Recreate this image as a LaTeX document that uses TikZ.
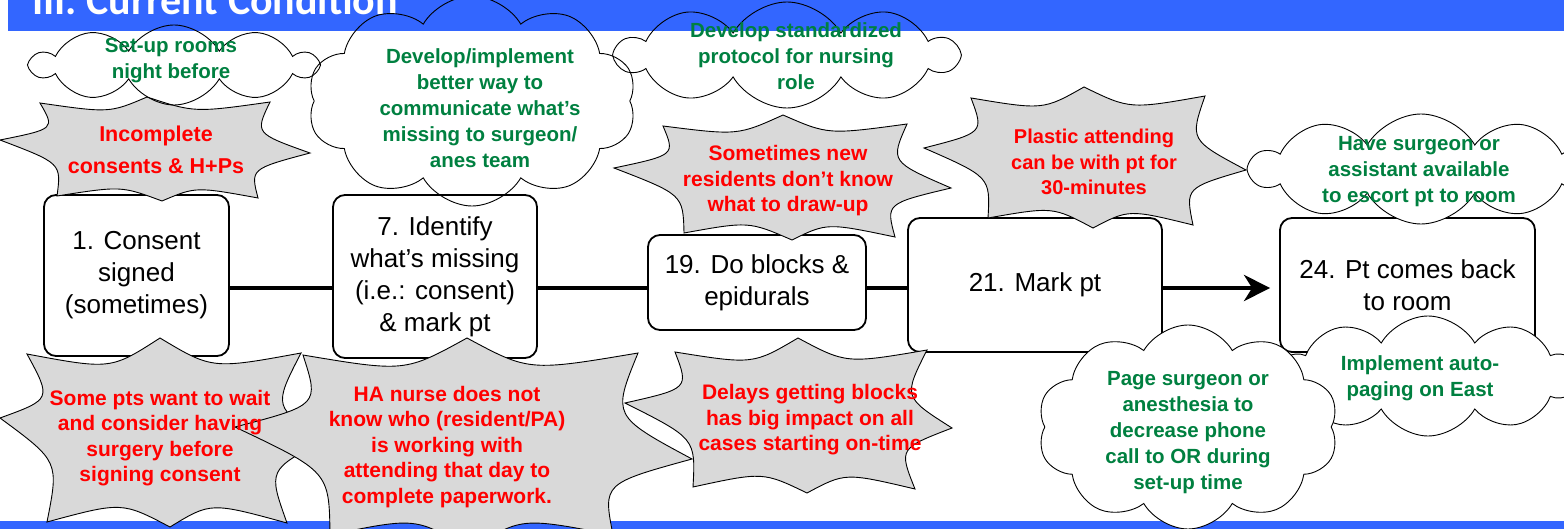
\documentclass[tikz,border=0pt]{standalone}
\usepackage{fontspec}
\setmainfont{Liberation Sans}
\newfontfamily\titlefont{Carlito}
\usetikzlibrary{shapes.symbols,arrows.meta,calc}
\definecolor{barblue}{RGB}{51,102,255}
\definecolor{ngreen}{RGB}{0,128,64}
\definecolor{nred}{RGB}{255,0,0}
\definecolor{expgray}{RGB}{217,217,217}
\tikzset{
  stepbox/.style={draw, rounded corners=12pt, line width=1.8pt, fill=white, align=center,
    font=\fontsize{26}{32}\selectfont, inner sep=0pt},
  flow/.style={line width=4.5pt},
  expl/.style={draw, fill=expgray, line width=0.9pt},
  redtxt/.style={text=nred, font=\bfseries\fontsize{21}{25.5}\selectfont, align=center, inner sep=0pt},
  greentxt/.style={text=ngreen, font=\bfseries\fontsize{20.5}{26}\selectfont, align=center, inner sep=0pt},
  cloudshape/.style={cloud, draw, line width=0.9pt, cloud puffs=10, cloud puff arc=120,
    cloud ignores aspect, inner sep=0pt},
  seg/.style n args={3}{insert path={.. controls ($(#3)!0.74!($(#1)!.5!(#2)$)$) .. (#2)}}
}
\newcommand\myexplosion[3]{%
  \coordinate (#1c) at (#2);
  \foreach \p [count=\i] in {#3} {\coordinate (#1p\i) at (\p);}
  \path[expl] (#1p1) [seg={#1p1}{#1p2}{#1c}] [seg={#1p2}{#1p3}{#1c}] [seg={#1p3}{#1p4}{#1c}]
    [seg={#1p4}{#1p5}{#1c}] [seg={#1p5}{#1p6}{#1c}] [seg={#1p6}{#1p7}{#1c}]
    [seg={#1p7}{#1p8}{#1c}] [seg={#1p8}{#1p1}{#1c}] -- cycle;
}
\begin{document}
\begin{tikzpicture}[x=1pt,y=-1pt]
\useasboundingbox (0,0) rectangle (1564,529);
\clip (0,0) rectangle (1564,529);
% bars
\fill[barblue] (8,0) rectangle (1564,31);
\fill[barblue] (0,521) rectangle (1564,529);
\node[anchor=base west, text=white, font=\titlefont\bfseries\fontsize{42}{42}\selectfont, inner sep=0pt] (title) at (32,15) {III. Current Condition};

% boxes
\coordinate (ly) at (0,288);
\node[stepbox, minimum width=185pt, minimum height=161pt] (b1) at (136.5,275.5) {1. Consent\\signed\\(sometimes)};
\node[stepbox, minimum width=204pt, minimum height=163pt] (b7) at (435,276.5) {7. Identify\\what's missing\\(i.e.: consent)\\\& mark pt};
\node[stepbox, minimum width=218pt, minimum height=95pt] (b19) at (757,282.5) {19. Do blocks \&\\epidurals};
\node[stepbox, minimum width=254pt, minimum height=134pt] (b21) at (1035,285) {21. Mark pt};
\node[stepbox, minimum width=255pt, minimum height=134pt] (b24) at (1407.5,285) {24. Pt comes back\\to room};
\draw[flow] (b1.east |- ly) -- (b7.west |- ly);
\draw[flow] (b7.east |- ly) -- (b19.west |- ly);
\draw[flow] (b19.east |- ly) -- (b21.west |- ly);
\draw[flow, -{Stealth[length=26pt,width=26pt,inset=8pt]}, shorten >=9pt] (b21.east |- ly) -- (b24.west |- ly);

% explosions
\myexplosion{ea}{155,150}{{40,103},{147,97},{270,102},{310,153},{258,198},{162,201},{57,196},{0,140}}
\myexplosion{eb}{780,178}{{663,126},{783,115},{907,124},{951,188},{895,237},{792,240},{684,233},{614,168}}
\myexplosion{ec}{1088,160}{{971,98},{1084,87},{1205,96},{1246,170},{1193,225},{1093,228},{988,218},{924,148}}
\myexplosion{ed}{160,437}{{27,354},{160,338},{301,353},{325,440},{287,523},{170,527},{47,522},{0,418}}
\myexplosion{ee}{462,445}{{303,355},{467,338},{638,353},{692,459},{613,535},{470,550},{330,535},{235,427}}
\myexplosion{ef}{800,420}{{675,352},{798,338},{927,350},{952,428},{915,489},{807,493},{693,487},{625,403}}

\node[redtxt, font=\bfseries\fontsize{21.5}{32}\selectfont] (ta) at (156,150) {Incomplete\\consents \& H+Ps};
\node[redtxt] (tb) at (788,181) {Sometimes new\\residents don't know\\what to draw-up};
\node[redtxt, font=\bfseries\fontsize{20}{25.5}\selectfont] (tc) at (1094,162) {Plastic attending\\can be with pt for\\30-minutes};
\node[redtxt] (td) at (160,438) {Some pts want to wait\\and consider having\\surgery before\\signing consent};
\node[redtxt] (te) at (447,447) {HA nurse does not\\know who (resident/PA)\\is working with\\attending that day to\\complete paperwork.};
\node[redtxt] (tf) at (810,420) {Delays getting blocks\\has big impact on all\\cases starting on-time};

% clouds
\node[cloudshape, minimum width=284pt, minimum height=80pt] (ca) at (174,65) {};
\node[cloudshape, minimum width=329pt, minimum height=210pt] (cb) at (472,101) {};
\node[cloudshape, minimum width=340pt, minimum height=106pt] (cc) at (787,55) {};
\node[cloudshape, fill=white, minimum width=340pt, minimum height=110pt] (cd) at (1421,169) {};
\node[cloudshape, fill=white, minimum width=300pt, minimum height=120pt] (ce) at (1428,376) {};
\node[cloudshape, fill=white, minimum width=301pt, minimum height=204pt] (cf) at (1188,427) {};

\node[greentxt] (tca) at (171,61) {Set-up rooms\\night before};
\node[greentxt] (tcb) at (480,108) {Develop/implement\\better way to\\communicate what's\\missing to surgeon/\\anes team};
\node[greentxt] (tcc) at (796,56) {Develop standardized\\protocol for nursing\\role};
\node[greentxt] (tcd) at (1419,172) {Have surgeon or\\assistant available\\to escort pt to room};
\node[greentxt] (tce) at (1420,378) {Implement auto-\\paging on East};
\node[greentxt] (tcf) at (1188,433) {Page surgeon or\\anesthesia to\\decrease phone\\call to OR during\\set-up time};
\end{tikzpicture}
\end{document}
